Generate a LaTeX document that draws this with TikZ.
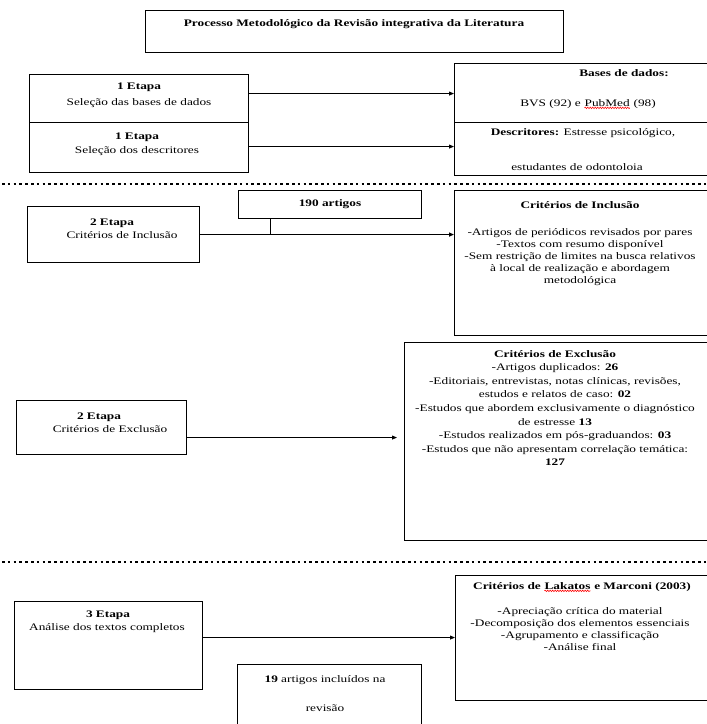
\documentclass[tikz,border=0pt]{standalone}
\usepackage{fontspec}
\setmainfont{Liberation Serif}[FakeStretch=1.33]
\usetikzlibrary{arrows.meta,decorations.pathmorphing}
\tikzset{
  box/.style={draw,line width=1.1pt,inner sep=0pt,anchor=north west},
  txt/.style={inner sep=0pt,align=center,font=\fontsize{10}{12}\selectfont},
  arr/.style={-{Triangle[length=5pt,width=4pt]},line width=0.8pt},
  sepline/.style={line width=2.6pt,dash pattern=on 2.6pt off 3.2pt},
}
\newcommand\sperr[1]{\tikz[baseline=(w.base)]{\node[inner sep=0pt,anchor=base](w){#1};\draw[red,line width=0.6pt,decorate,decoration={snake,amplitude=0.7pt,segment length=2.5pt}]([yshift=-1.5pt]w.south west)--([yshift=-1.5pt]w.south east);}}
\begin{document}
\begin{tikzpicture}[x=1pt,y=-1pt]
\useasboundingbox (0,0) rectangle (707,724);
\clip (0,0) rectangle (707,724);
\fill[white] (0,0) rectangle (707,724);

% boxes
\node[box,minimum width=418pt,minimum height=42pt] (title) at (145,10) {};
\node[box,minimum width=219pt,minimum height=48pt] (e1a) at (29,74) {};
\node[box,minimum width=219pt,minimum height=50pt] (e1b) at (29,122) {};
\node[box,minimum width=266pt,minimum height=59pt] (bases) at (454,63) {};
\node[box,minimum width=266pt,minimum height=53pt] (desc) at (454,122) {};
\node[box,minimum width=172pt,minimum height=56pt] (inc2) at (27,206) {};
\node[box,minimum width=183pt,minimum height=28pt] (art190) at (238,190) {};
\node[box,minimum width=266pt,minimum height=145pt] (critinc) at (454,190) {};
\node[box,minimum width=170pt,minimum height=54pt] (exc2) at (16,400) {};
\node[box,minimum width=316pt,minimum height=198pt] (critexc) at (404,342) {};
\node[box,minimum width=188pt,minimum height=88pt] (e3) at (14,601) {};
\node[box,minimum width=265pt,minimum height=125pt] (lak) at (455,575) {};
\node[box,minimum width=184pt,minimum height=80pt] (art19) at (237,664) {};

% separators
\draw[sepline] (2,184) -- (707,184);
\draw[sepline] (2,562) -- (707,562);

% texts
\node[txt] (ttitle) at (354,24) {\textbf{Processo Metodológico da Revisão integrativa da Literatura}};
\node[txt] (t1a) at (139,87) {\textbf{1 Etapa}};
\node[txt] (t1a2) at (139,103) {Seleção das bases de dados};
\node[txt] (t1b) at (137,137) {\textbf{1 Etapa}};
\node[txt] (t1b2) at (137,151) {Seleção dos descritores};
\node[txt] (tb1) at (624,73) {\textbf{Bases de dados:}};
\node[txt] (tb2) at (588,104) {BVS (92) e \sperr{PubMed} (98)};
\node[txt] (td1) at (583,133) {\textbf{Descritores:} Estresse psicológico,};
\node[txt] (td2) at (577,167) {estudantes de odontoloia};
\node[txt] (t190) at (330,204) {\textbf{190 artigos}};
\node[txt] (ti1) at (112,223) {\textbf{2 Etapa}};
\node[txt] (ti2) at (122,235) {Critérios de Inclusão};
\node[txt] (tci) at (580,205) {\textbf{Critérios de Inclusão}};
\node[txt,anchor=north] (tci2) at (580,228) {-Artigos de periódicos revisados por pares\\-Textos com resumo disponível\\-Sem restrição de limites na busca relativos\\à local de realização e abordagem\\metodológica};
\node[txt,anchor=north,font=\fontsize{10}{13.6}\selectfont] (tce) at (555,350) {\textbf{Critérios de Exclusão}\\-Artigos duplicados: \textbf{26}\\-Editoriais, entrevistas, notas clínicas, revisões,\\estudos e relatos de caso: \textbf{02}\\-Estudos que abordem exclusivamente o diagnóstico\\de estresse \textbf{13}\\-Estudos realizados em pós-graduandos: \textbf{03}\\-Estudos que não apresentam correlação temática:\\\textbf{127}};
\node[txt] (te1) at (99,417) {\textbf{2 Etapa}};
\node[txt] (te2) at (110,429) {Critérios de Exclusão};
\node[txt] (tl) at (582,587) {\textbf{Critérios de \sperr{Lakatos} e Marconi (2003)}};
\node[txt,anchor=north] (tl2) at (580,607) {-Apreciação crítica do material\\-Decomposição dos elementos essenciais\\-Agrupamento e classificação\\-Análise final};
\node[txt] (t31) at (108,615) {\textbf{3 Etapa}};
\node[txt] (t32) at (107,628) {Análise dos textos completos};
\node[txt] (t191) at (325,680) {\textbf{19} artigos incluídos na};
\node[txt] (t192) at (325,708) {revisão};

% connectors
\coordinate (a1) at ([yshift=5pt]e1a.east);
\draw[arr] (a1) -- (a1 -| bases.west);
\coordinate (a2) at ([yshift=1pt]e1b.east);
\draw[arr] (a2) -- (a2 -| desc.west);
\draw[arr,line width=1.3pt] (inc2.east) -- (inc2.east -| critinc.west);
\coordinate (v) at ([xshift=-59.5pt]art190.south);
\draw[line width=0.8pt] (v) -- (v |- inc2.east);
\coordinate (a4) at ([yshift=-10pt]exc2.east);
\draw[arr,shorten >=7pt] (a4) -- (a4 -| critexc.west);
\coordinate (a5) at ([yshift=8pt]e3.east);
\draw[arr] (a5) -- (a5 -| lak.west);
\end{tikzpicture}
\end{document}
